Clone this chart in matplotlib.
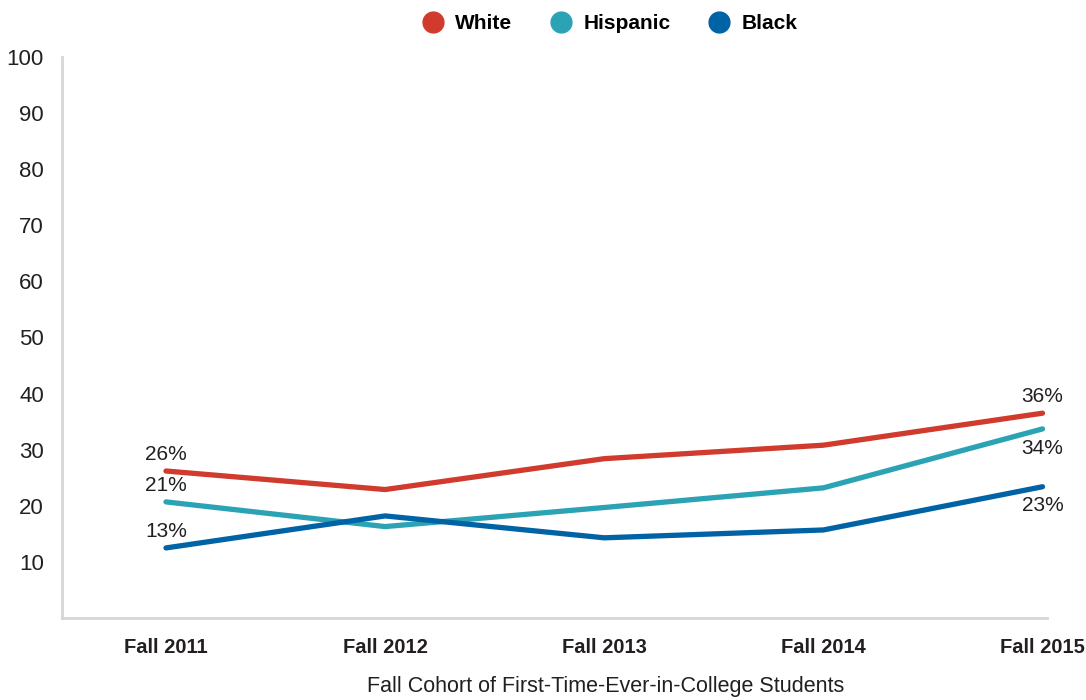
import numpy as np
import matplotlib.pyplot as plt
from matplotlib.lines import Line2D

plt.rcParams['font.family'] = ['Liberation Sans', 'DejaVu Sans']

# Дані
years = ['Fall 2011', 'Fall 2012', 'Fall 2013', 'Fall 2014', 'Fall 2015']
white = [26.2, 22.9, 28.4, 30.8, 36.5]
hispanic = [20.7, 16.3, 19.7, 23.2, 33.7]
black = [12.5, 18.2, 14.3, 15.7, 23.4]

series = [('White', white, '#D03B2E'),
          ('Hispanic', hispanic, '#2BA3B5'),
          ('Black', black, '#0063A6')]

txt = '#231F20'
x = np.arange(len(years))

fig = plt.figure(figsize=(10.86, 7), dpi=100)
ax = fig.add_axes([0.057, 0.117, 0.907, 0.802])

for name, vals, col in series:
    ax.plot(x, vals, color=col, lw=3.8, solid_capstyle='round', solid_joinstyle='round')

# підписи на кінцях
lab = dict(ha='center', fontsize=15, color=txt, textcoords='offset points')
ax.annotate('26%', (x[0], white[0]), xytext=(0, 5), va='bottom', **lab)
ax.annotate('21%', (x[0], hispanic[0]), xytext=(0, 5), va='bottom', **lab)
ax.annotate('13%', (x[0], black[0]), xytext=(0, 5), va='bottom', **lab)
ax.annotate('36%', (x[-1], white[-1]), xytext=(0, 5), va='bottom', **lab)
ax.annotate('34%', (x[-1], hispanic[-1]), xytext=(0, -7), va='top', **lab)
ax.annotate('23%', (x[-1], black[-1]), xytext=(0, -7), va='top', **lab)

ax.set_xlim(-0.475, 4.02)
ax.set_ylim(0, 100)
ax.set_xticks(x)
ax.set_xticklabels(years, fontsize=14.5, fontweight='bold', color=txt)
ax.set_yticks(np.arange(10, 101, 10))
ax.set_yticklabels([str(v) for v in range(10, 101, 10)], fontsize=16, color=txt)
ax.tick_params(length=0)
ax.tick_params(axis='y', pad=13)
ax.tick_params(axis='x', pad=14)

for s in ['top', 'right']:
    ax.spines[s].set_visible(False)
for s in ['left', 'bottom']:
    ax.spines[s].set_color('#D6D6D6')
    ax.spines[s].set_linewidth(2)

ax.set_xlabel('Fall Cohort of First-Time-Ever-in-College Students', fontsize=15.5,
              color=txt)
ax.xaxis.set_label_coords(0.552, -0.103)

handles = [Line2D([], [], marker='o', ls='', markersize=15, color=c) for _, _, c in series]
fig.legend(handles, [n for n, _, _ in series], loc='center', bbox_to_anchor=(0.557, 0.966),
           ncol=3, frameon=False, handletextpad=0.05, columnspacing=1.35,
           prop={'size': 15, 'weight': 'bold'})

fig.savefig('out.png', dpi=100)
